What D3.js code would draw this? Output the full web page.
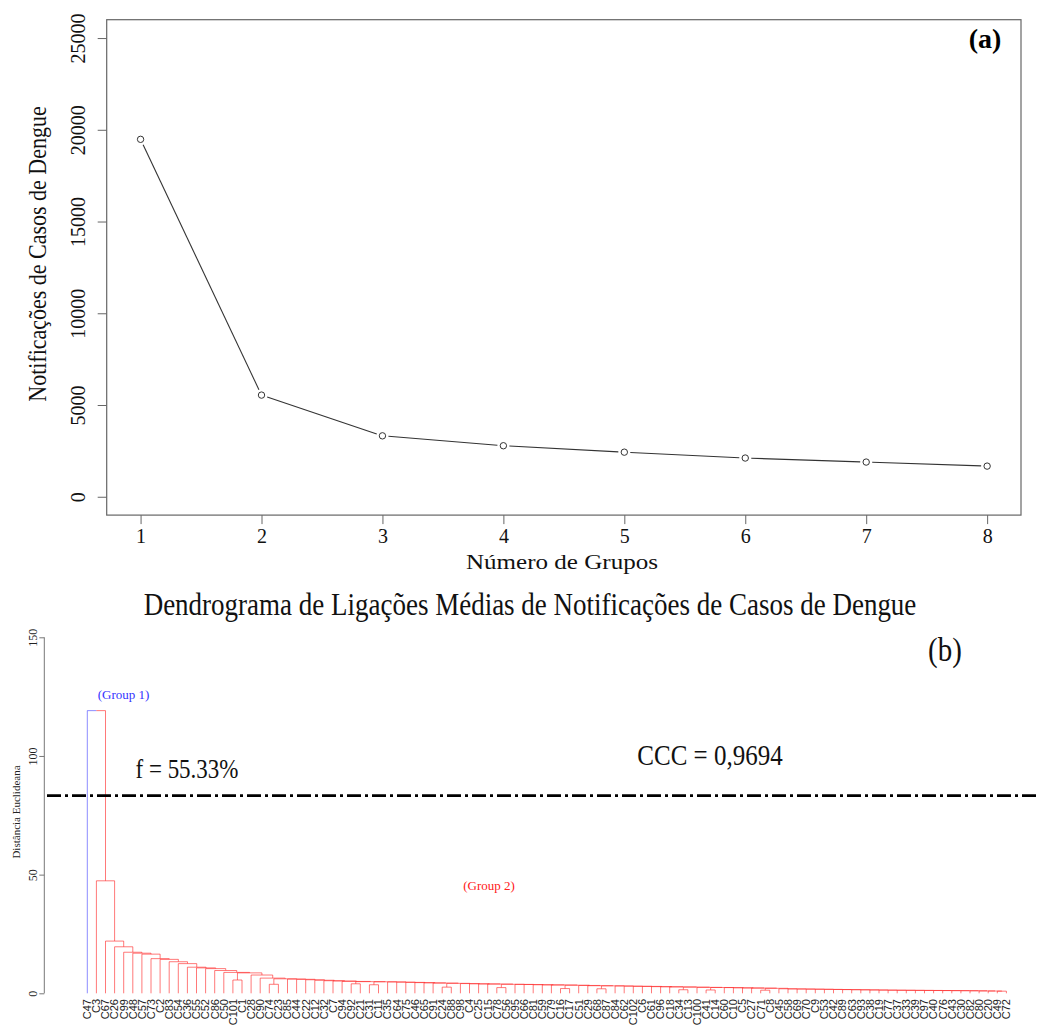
<!DOCTYPE html>
<html><head><meta charset="utf-8">
<script src="https://cdn.jsdelivr.net/npm/d3@7"></script>
<style>body{margin:0;background:#fff}</style>
</head><body>
<svg id="c" width="1039" height="1025"></svg>
<script>
// ---------- Panel (a) data ----------
const groupCounts = [1, 2, 3, 4, 5, 6, 7, 8];
const notifications = [19480, 5540, 3320, 2780, 2430, 2110, 1890, 1670];
const yTicksA = [0, 5000, 10000, 15000, 20000, 25000];

// ---------- Panel (b) data ----------
const leafLabels = ["C47","C3","C67","C26","C99","C48","C57","C73","C2","C83",
  "C54","C36","C55","C52","C86","C50","C101","C1","C28","C90",
  "C74","C23","C85","C44","C22","C12","C32","C7","C94","C92",
  "C21","C31","C11","C35","C64","C75","C46","C65","C91","C24",
  "C88","C98","C4","C25","C15","C78","C56","C95","C66","C81",
  "C59","C79","C16","C17","C51","C29","C68","C87","C84","C62",
  "C102","C6","C61","C96","C18","C34","C13","C100","C41","C14",
  "C60","C10","C5","C27","C71","C8","C45","C58","C69","C70",
  "C9","C53","C42","C89","C63","C93","C38","C19","C77","C37",
  "C33","C39","C97","C40","C76","C43","C30","C82","C80","C20",
  "C49","C72"];
// adjacent leaf pairs merged first (index of first leaf) and their heights
const pairStarts  = [16, 20, 29, 31, 39, 45, 52, 56, 65, 68, 74];
const pairHeights = [5.6, 3.8, 4.0, 3.6, 2.6, 2.4, 2.0, 1.9, 1.5, 1.4, 1.3];
// height at which each unit (leaf or pair, in order) joins the rest
const chainHeights = [119.1, 47.4, 22.0, 19.6, 17.3, 16.9, 16.5, 14.6, 14.3, 13.3,
  12.5, 11.0, 10.7, 10.4, 9.6, 8.8, 8.6, 7.7, 6.4, 6.1,
  6.0, 5.9, 5.7, 5.5, 5.3, 5.2, 5.0, 4.9, 4.85, 4.8,
  4.7, 4.6, 4.5, 4.4, 4.3, 4.2, 4.1, 4.0, 3.95, 3.9,
  3.8, 3.75, 3.7, 3.6, 3.55, 3.5, 3.4, 3.3, 3.2, 3.15,
  3.1, 3.0, 2.95, 2.9, 2.8, 2.75, 2.7, 2.6, 2.5, 2.45,
  2.4, 2.3, 2.25, 2.2, 2.1, 1.9, 1.85, 1.8, 1.75, 1.7,
  1.65, 1.6, 1.55, 1.5, 1.45, 1.4, 1.35, 1.3, 1.28, 1.25,
  1.22, 1.2, 1.17, 1.15, 1.12, 1.1, 1.05, 1.0, 0.95, 0.9];
const group1Leaves = ["C47"];
const cutHeight = 83.3;
const yTicksB = [0, 50, 100, 150];

const svg = d3.select("#c");
const serif = "'Liberation Serif', 'Times New Roman', serif";
const sans = "'Liberation Sans', Arial, sans-serif";

// ================= Panel (a) =================
const xA = d3.scaleLinear().domain([0.72, 8.28]).range([106.7, 1021]);
const yA = d3.scaleLinear().domain([-1000, 26000]).range([515.1, 19.7]);

svg.append("rect").attr("x", xA(0.72)).attr("y", yA(26000))
  .attr("width", xA(8.28) - xA(0.72)).attr("height", yA(-1000) - yA(26000))
  .attr("fill", "none").attr("stroke", "#666").attr("stroke-width", 1.2);

const axL = svg.append("g").attr("transform", `translate(${xA(0.72)},0)`)
  .call(d3.axisLeft(yA).tickValues(yTicksA).tickSize(9).tickFormat(d3.format("d")));
axL.select(".domain").remove();
axL.selectAll("line").attr("stroke", "#666");
axL.selectAll("text").attr("transform", "rotate(-90)").attr("x", 0).attr("y", -21.7)
  .attr("dy", 0).attr("text-anchor", "middle")
  .style("font-family", serif).style("font-size", "20px").attr("fill", "#111");

const axB = svg.append("g").attr("transform", `translate(0,${yA(-1000)})`)
  .call(d3.axisBottom(xA).tickValues(groupCounts).tickSize(9).tickFormat(d3.format("d")));
axB.select(".domain").remove();
axB.selectAll("line").attr("stroke", "#666");
axB.selectAll("text").attr("y", 28).attr("dy", 0)
  .style("font-family", serif).style("font-size", "20px").attr("fill", "#111");

// line segments with gaps around points (type = "b")
const pts = groupCounts.map((g, i) => [xA(g), yA(notifications[i])]);
const gap = 6;
const segs = [];
for (let i = 0; i < pts.length - 1; i++) {
  const [x1, y1] = pts[i], [x2, y2] = pts[i + 1];
  const L = Math.hypot(x2 - x1, y2 - y1), ux = (x2 - x1) / L, uy = (y2 - y1) / L;
  segs.push([x1 + ux * gap, y1 + uy * gap, x2 - ux * gap, y2 - uy * gap]);
}
svg.append("g").selectAll("line").data(segs).join("line")
  .attr("x1", d => d[0]).attr("y1", d => d[1]).attr("x2", d => d[2]).attr("y2", d => d[3])
  .attr("stroke", "#333").attr("stroke-width", 1.1);
svg.append("g").selectAll("circle").data(pts).join("circle")
  .attr("cx", d => d[0]).attr("cy", d => d[1]).attr("r", 3.2)
  .attr("fill", "none").attr("stroke", "#333").attr("stroke-width", 1);

svg.append("text").attr("transform", "translate(46,254) rotate(-90) scale(1,1.1)")
  .attr("text-anchor", "middle").style("font-family", serif).style("font-size", "22px")
  .attr("fill", "#111").text("Notificações de Casos de Dengue");
svg.append("text").attr("x", 466).attr("y", 569).attr("textLength", 192)
  .attr("lengthAdjust", "spacingAndGlyphs")
  .style("font-family", serif).style("font-size", "20px").attr("fill", "#111")
  .text("Número de Grupos");
svg.append("text").attr("x", 985).attr("y", 48).attr("text-anchor", "middle")
  .style("font-family", serif).style("font-size", "28px").style("font-weight", "bold")
  .text("(a)");

// ================= Panel (b) =================
svg.append("text").attr("transform", "translate(530,615) scale(1,1.2)")
  .attr("text-anchor", "middle")
  .style("font-family", serif).style("font-size", "27px").attr("fill", "#111")
  .text("Dendrograma de Ligações Médias de Notificações de Casos de Dengue");
svg.append("text").attr("transform", "translate(945,661) scale(1,1.15)")
  .attr("text-anchor", "middle")
  .style("font-family", serif).style("font-size", "29px").attr("fill", "#111").text("(b)");

const xD = d3.scalePoint().domain(leafLabels).range([87.3, 1006.4]);
const yD = d3.scaleLinear().domain([0, 150]).range([993.3, 637.3]);

// build tree: units (leaf or adjacent pair) chained together
const units = [];
for (let i = 0; i < leafLabels.length; i++) {
  const p = pairStarts.indexOf(i);
  if (p >= 0) {
    units.push({ h: pairHeights[p], children: [{ name: leafLabels[i], h: 0 }, { name: leafLabels[i + 1], h: 0 }] });
    i++;
  } else units.push({ name: leafLabels[i], h: 0 });
}
let rest = units[units.length - 1];
for (let i = units.length - 2; i >= 0; i--) {
  rest = { h: chainHeights[i], children: [units[i], rest] };
}
const root = d3.hierarchy(rest);
root.eachAfter(n => {
  if (!n.children) { n.x = xD(n.data.name); n.g1 = group1Leaves.includes(n.data.name); }
  else { n.x = d3.mean(n.children, c => c.x); n.g1 = n.children.every(c => c.g1); }
});

const edges = root.descendants().filter(n => n.parent);
const ge = svg.append("g").attr("fill", "none");
ge.selectAll("path").data(edges).join("path")
  .attr("d", n => `M${n.x},${yD(n.data.h)}V${yD(n.parent.data.h)}H${n.parent.x}`)
  .attr("stroke", n => n.g1 ? "#3030ff" : "#ff2020")
  .attr("stroke-opacity", n => n.g1 ? 0.55 : 0.6)
  .attr("stroke-width", 1);

// leaf labels
svg.append("g").selectAll("text").data(leafLabels).join("text")
  .attr("transform", d => `translate(${xD(d)},999) rotate(-90)`)
  .attr("text-anchor", "end").attr("dy", "0.35em")
  .style("font-family", sans).style("font-size", "11px").attr("fill", "#222")
  .text(d => d);

// y axis
const axD = svg.append("g").attr("transform", "translate(44.3,0)")
  .call(d3.axisLeft(yD).tickValues(yTicksB).tickSize(5));
axD.select(".domain").attr("stroke", "#777").attr("d", `M0,${yD(0)}V${yD(150)}`);
axD.selectAll("line").attr("stroke", "#777");
axD.selectAll("text").attr("transform", "rotate(-90)").attr("x", 0).attr("y", -7.6)
  .attr("dy", 0).attr("text-anchor", "middle")
  .style("font-family", serif).style("font-size", "12px").attr("fill", "#222");
svg.append("text").attr("transform", "translate(20,812) rotate(-90)")
  .attr("text-anchor", "middle").style("font-family", serif).style("font-size", "11px")
  .attr("fill", "#222").text("Distância Euclideana");

// cut line
svg.append("line").attr("x1", 47).attr("x2", 1039).attr("y1", yD(cutHeight)).attr("y2", yD(cutHeight))
  .attr("stroke", "#000").attr("stroke-width", 2.6).attr("stroke-dasharray", "14,4,3,4");

svg.append("text").attr("transform", "translate(187,778) scale(1,1.15)")
  .attr("text-anchor", "middle")
  .style("font-family", serif).style("font-size", "23px").attr("fill", "#111").text("f = 55.33%");
svg.append("text").attr("transform", "translate(710,765) scale(1,1.15)")
  .attr("text-anchor", "middle")
  .style("font-family", serif).style("font-size", "25px").attr("fill", "#111").text("CCC = 0,9694");

svg.append("text").attr("x", 123.5).attr("y", 699).attr("text-anchor", "middle")
  .style("font-family", serif).style("font-size", "13px").attr("fill", "#3333ff").text("(Group 1)");
svg.append("text").attr("x", 489).attr("y", 890).attr("text-anchor", "middle")
  .style("font-family", serif).style("font-size", "13px").attr("fill", "#ff2020").text("(Group 2)");
</script>
</body></html>
